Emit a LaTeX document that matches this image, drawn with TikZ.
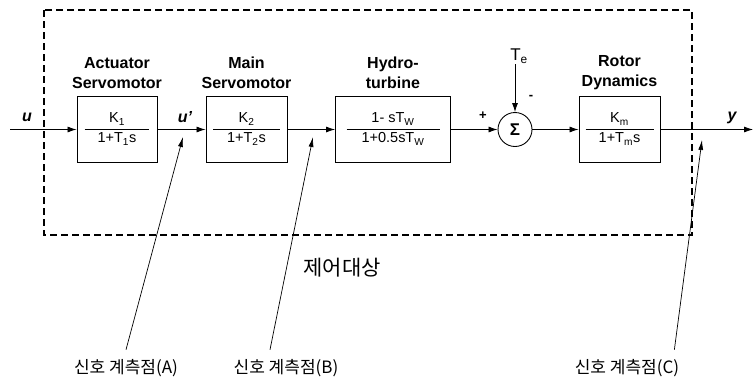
\documentclass[tikz,border=0pt]{standalone}
\usepackage{fontspec}
\setmainfont{Liberation Sans}
\newfontfamily\kofont{Noto Sans CJK KR}
\usepackage{tikz}
\usetikzlibrary{arrows.meta, positioning}

\setlength{\arrayrulewidth}{0.8pt}
\newcommand{\blockfrac}[3]{%
  \begin{tabular}{@{}c@{}}\makebox[#3]{#1}\\[1pt]\hline\rule{0pt}{13pt}#2\end{tabular}}

\begin{document}
\begin{tikzpicture}[
    x=1pt, y=-1pt,
    every node/.style={font=\fontsize{14.5}{17.4}\selectfont},
    block/.style={draw, line width=0.9pt, rectangle, minimum height=66pt, inner sep=0pt},
    title/.style={font=\fontsize{16}{20}\selectfont\bfseries, align=center},
    sig/.style={font=\fontsize{16}{18}\selectfont\bfseries\itshape},
    sumnode/.style={draw, circle, line width=0.9pt, minimum size=34pt, inner sep=0pt, font=\fontsize{17}{18}\selectfont\bfseries},
    flow/.style={line width=0.8pt, -{Latex[length=9pt, width=6pt]}},
    pointer/.style={line width=0.7pt, -{Latex[length=10pt, width=5pt]}},
    plantbox/.style={line width=1.3pt, dash pattern=on 7pt off 4pt},
    probe/.style={font=\kofont\fontsize{17}{20}\selectfont, anchor=base, inner sep=0pt}
]
    \useasboundingbox (0,0) rectangle (753,378);

    % Plant boundary
    \draw[plantbox] (44,10) rectangle (692,235);
    \node[font=\kofont\fontsize{21}{24}\selectfont] (plant) at (342,268) {제어대상};

    % Blocks
    \node[block, minimum width=80pt] (act) at (117,129.5) {\blockfrac{K\textsubscript{1}}{1+T\textsubscript{1}s}{65pt}};
    \node[block, minimum width=81pt] (msv) at (246.5,129.5) {\blockfrac{K\textsubscript{2}}{1+T\textsubscript{2}s}{67pt}};
    \node[block, minimum width=115pt] (hyd) at (393,129.5) {\blockfrac{1- sT\textsubscript{W}}{1+0.5sT\textsubscript{W}}{93pt}};
    \node[sumnode] (sum) at (515,129.5) {Σ};
    \node[block, minimum width=81pt] (rot) at (619.5,129.5) {\blockfrac{K\textsubscript{m}}{1+T\textsubscript{m}s}{68pt}};

    \node[title] (actT) at (117,73) {Actuator\\Servomotor};
    \node[title] (msvT) at (246.5,73) {Main\\Servomotor};
    \node[title] (hydT) at (393,73) {Hydro-\\turbine};
    \node[title] (rotT) at (619.5,73) {Rotor\\Dynamics};

    % Signals
    \coordinate (in) at (10,129.5);
    \coordinate (out) at (753,129.5);
    \node[sig] (u) at (27,117) {u};
    \node[sig] (up) at (185,117) {u'};
    \node[sig] (y) at (732,118) {y};
    \node[font=\fontsize{17}{19}\selectfont, inner sep=1pt] (te) at (519,56) {T\textsubscript{e}};
    \node[font=\fontsize{13}{15}\selectfont\bfseries] (plus) at (483,116) {+};
    \node[font=\fontsize{13}{15}\selectfont\bfseries] (minus) at (531,97) {-};

    \draw[flow] (in) -- (act);
    \draw[flow] (act) -- (msv);
    \draw[flow] (msv) -- (hyd);
    \draw[flow] (hyd) -- (sum);
    \draw[flow] (sum) -- (rot);
    \draw[flow] (rot) -- (out);
    \draw[flow] (te.south -| sum.north) -- (sum.north);

    % Measuring points
    \coordinate (pA) at (183,137);
    \coordinate (pB) at (313,137);
    \coordinate (pC) at (702,140);
    \node[probe] (labA) at (126,373) {신호 계측점(A)};
    \node[probe] (labB) at (286,373) {신호 계측점(B)};
    \node[probe] (labC) at (627,373) {신호 계측점(C)};

    \draw[pointer] ([yshift=9pt]labA.north) -- (pA);
    \draw[pointer] ([xshift=-16pt, yshift=9pt]labB.north) -- (pB);
    \draw[pointer] ([xshift=-5pt, yshift=9pt]labC.north east) -- (pC);
\end{tikzpicture}
\end{document}
